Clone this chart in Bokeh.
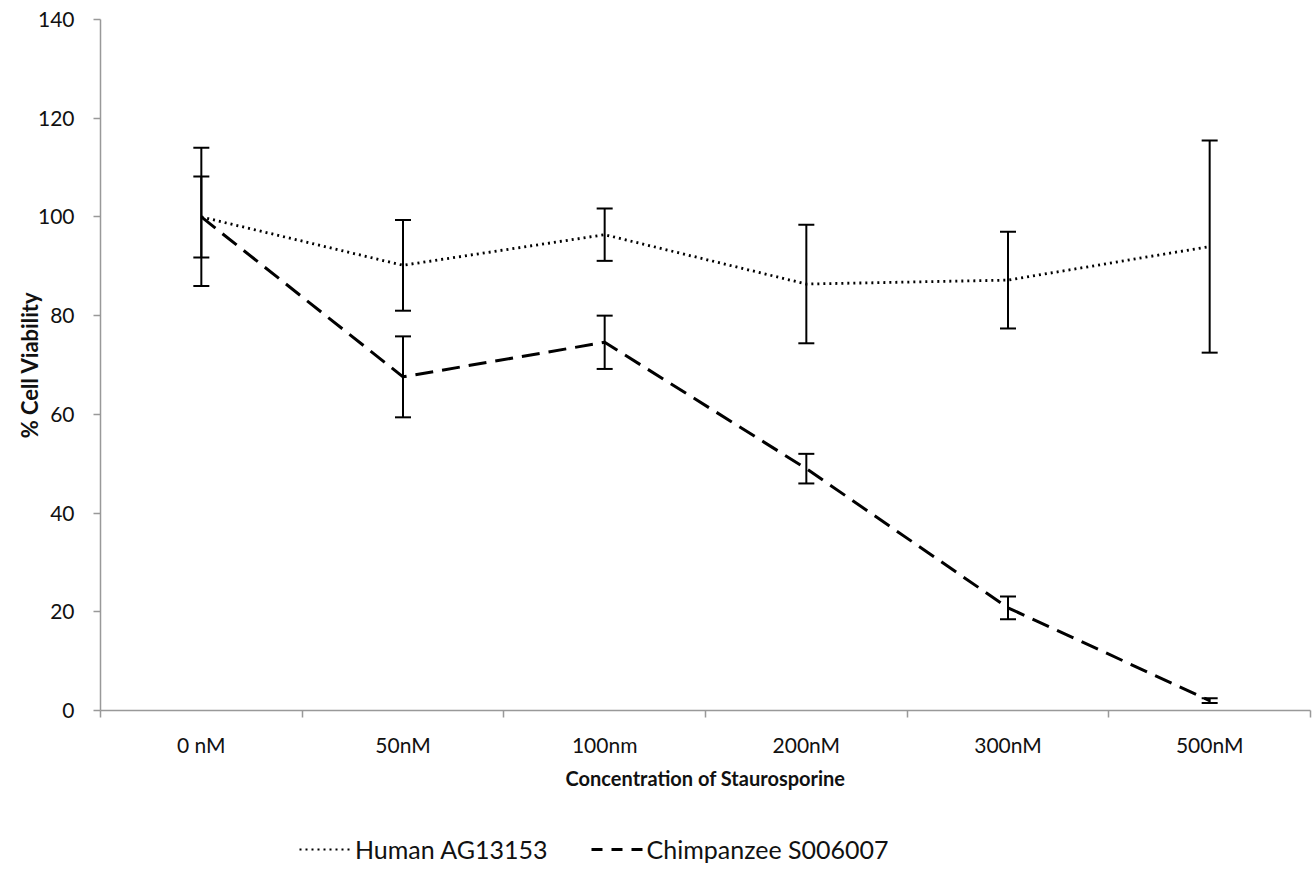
from bokeh.plotting import figure
from bokeh.models import (Range1d, FixedTicker, ColumnDataSource, Whisker, TeeHead,
                          Legend, LegendItem)
from bokeh.layouts import column
from bokeh.embed import file_html
from bokeh.resources import INLINE

categories = ["0 nM", "50nM", "100nm", "200nM", "300nM", "500nM"]
human = [100, 90.2, 96.4, 86.4, 87.2, 94.0]
human_err = [14.0, 9.2, 5.3, 12.0, 9.8, 21.5]
chimp = [100, 67.6, 74.6, 49.0, 20.8, 2.0]
chimp_err = [8.2, 8.2, 5.4, 3.0, 2.3, 0.5]
y_ticks = [0, 20, 40, 60, 80, 100, 120, 140]
series_names = ["Human AG13153", "Chimpanzee S006007"]

xs = [i + 0.5 for i in range(len(categories))]

p = figure(width=1313, height=800, output_backend="svg", toolbar_location=None,
           x_range=Range1d(0, len(categories)), y_range=Range1d(0, 140),
           min_border_left=100, min_border_right=3, min_border_top=19)
p.frame_height = 691
p.frame_width = 1210
p.outline_line_color = None
p.xgrid.grid_line_color = None
p.ygrid.grid_line_color = None
p.background_fill_color = "white"

FONT = "Lato"

# x axis: labels at centers, ticks at boundaries
xa = p.xaxis[0]
xa.ticker = FixedTicker(ticks=xs, minor_ticks=list(range(len(categories) + 1)))
xa.major_label_overrides = {x: c for x, c in zip(xs, categories)}
xa.major_tick_out = 0
xa.major_tick_in = 0
xa.minor_tick_out = 7
xa.minor_tick_in = 0
xa.minor_tick_line_color = "#999999"
xa.minor_tick_line_width = 1.5
xa.axis_line_color = "#999999"
xa.axis_line_width = 1.5
xa.major_label_text_font = FONT
xa.major_label_text_font_size = "21px"
xa.major_label_text_color = "#111111"
xa.major_label_standoff = 14
xa.axis_label = "Concentration of Staurosporine"
xa.axis_label_text_font = FONT
xa.axis_label_text_font_style = "bold"
xa.axis_label_text_font_size = "20px"
xa.axis_label_text_color = "#111111"
xa.axis_label_standoff = 6

ya = p.yaxis[0]
ya.ticker = FixedTicker(ticks=y_ticks, minor_ticks=[])
ya.major_tick_out = 7
ya.major_tick_in = 0
ya.major_tick_line_color = "#999999"
ya.major_tick_line_width = 1.5
ya.axis_line_color = "#999999"
ya.axis_line_width = 1.5
ya.major_label_text_font = FONT
ya.major_label_text_font_size = "21px"
ya.major_label_text_color = "#111111"
ya.major_label_standoff = 19
ya.axis_label = "% Cell Viability"
ya.axis_label_text_font = FONT
ya.axis_label_text_font_style = "bold"
ya.axis_label_text_font_size = "22px"
ya.axis_label_text_color = "#111111"
ya.axis_label_standoff = -8

hsrc = ColumnDataSource(dict(x=xs, y=human,
                             lo=[v - e for v, e in zip(human, human_err)],
                             hi=[v + e for v, e in zip(human, human_err)]))
csrc = ColumnDataSource(dict(x=xs, y=chimp,
                             lo=[v - e for v, e in zip(chimp, chimp_err)],
                             hi=[v + e for v, e in zip(chimp, chimp_err)]))

for src in (hsrc, csrc):
    w = Whisker(source=src, base="x", lower="lo", upper="hi", dimension="height",
                line_color="black", line_width=2,
                upper_head=TeeHead(size=16, line_width=2, line_color="black"),
                lower_head=TeeHead(size=16, line_width=2, line_color="black"))
    p.add_layout(w)

p.line("x", "y", source=hsrc, line_color="black", line_width=2.8, line_dash="2 4")
p.line("x", "y", source=csrc, line_color="black", line_width=3, line_dash="18 9")

# legend strip below the chart (its lines sit off-screen; only the legend shows)
lf = figure(width=1313, height=72, output_backend="svg", toolbar_location=None,
            x_axis_location=None, y_axis_location=None,
            min_border_left=0, min_border_right=0, min_border_top=0,
            min_border_bottom=0, x_range=Range1d(0, 1), y_range=Range1d(0, 1))
lf.outline_line_color = None
lf.xgrid.grid_line_color = None
lf.ygrid.grid_line_color = None
lh = lf.line([-10, -9], [-10, -9], line_color="black", line_width=2.2,
             line_dash="2 4")
lc = lf.line([-10, -9], [-10, -9], line_color="black", line_width=3,
             line_dash="11 9")

legend = Legend(items=[LegendItem(label=series_names[0], renderers=[lh]),
                       LegendItem(label=series_names[1], renderers=[lc])],
                orientation="horizontal", location=(199, 0))
legend.label_text_font = FONT
legend.label_text_font_size = "25px"
legend.label_text_color = "#111111"
legend.glyph_width = 52
legend.glyph_height = 20
legend.label_standoff = 4
legend.spacing = 43
legend.border_line_color = None
legend.background_fill_alpha = 0
legend.margin = 0
legend.padding = 0
lf.add_layout(legend, "center")

layout = column(p, lf, spacing=0)
open("out.html", "w").write(file_html(layout, INLINE))
